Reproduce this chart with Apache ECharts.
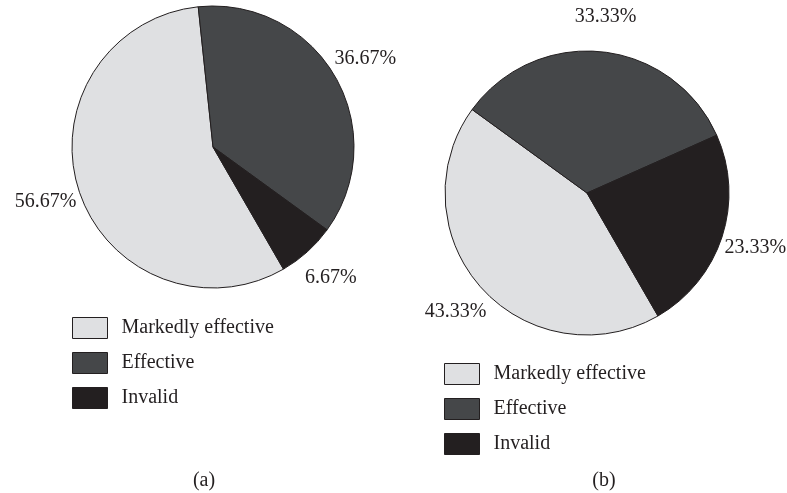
<!DOCTYPE html>
<html>
<head>
<meta charset="utf-8">
<title>Efficacy distribution</title>
<script src="https://cdn.jsdelivr.net/npm/echarts@6/dist/echarts.min.js"></script>
<style>
  html, body { margin: 0; padding: 0; background: #ffffff; }
  #chart { width: 787px; height: 493px; }
</style>
</head>
<body>
<div id="chart"></div>
<script>
// Outcome categories shared by both groups
const categories = ['Markedly effective', 'Effective', 'Invalid'];
// Percentages for group (a) and group (b)
const valuesA = [56.67, 36.67, 6.67];
const valuesB = [43.33, 33.33, 23.33];
const panelLabels = ['(a)', '(b)'];

const colors = ['#dfe0e2', '#454749', '#231f20'];
const FONT = '"Liberation Serif", "DejaVu Serif", serif';
const TEXT_COLOR = '#231f20';
const START_ANGLE = -60;

const pies = [
  { values: valuesA, center: [213, 147], radius: 141 },
  { values: valuesB, center: [587, 193], radius: 142 }
];

// Place each percentage at a fixed distance outside the rim, on the slice's mid-angle
function makeLabelLayout(pie) {
  const total = pie.values.reduce((s, v) => s + v, 0);
  return function (params) {
    let cum = 0;
    for (let i = 0; i < params.dataIndex; i++) cum += pie.values[i];
    const mid = cum + pie.values[params.dataIndex] / 2;
    const a = (START_ANGLE - mid / total * 360) * Math.PI / 180;
    const R = pie.radius + 35;
    return {
      x: pie.center[0] + R * Math.cos(a),
      y: pie.center[1] - R * Math.sin(a),
      align: 'center',
      verticalAlign: 'middle'
    };
  };
}

const series = pies.map((pie) => ({
  type: 'pie',
  center: pie.center,
  radius: pie.radius,
  startAngle: START_ANGLE,
  clockwise: true,
  avoidLabelOverlap: false,
  silent: true,
  animation: false,
  itemStyle: { borderColor: '#231f20', borderWidth: 1 },
  label: {
    show: true,
    position: 'outside',
    formatter: (p) => p.value.toFixed(2) + '%',
    fontFamily: FONT,
    fontSize: 20,
    color: TEXT_COLOR
  },
  labelLine: { show: false },
  labelLayout: makeLabelLayout(pie),
  data: categories.map((name, i) => ({
    name: name,
    value: pie.values[i],
    itemStyle: { color: colors[i] }
  }))
}));

const legendBase = {
  orient: 'vertical',
  icon: 'rect',
  itemWidth: 35,
  itemHeight: 21,
  itemGap: 13,
  padding: 0,
  selectedMode: false,
  data: categories,
  itemStyle: { borderColor: '#231f20', borderWidth: 1 },
  textStyle: {
    fontFamily: FONT,
    fontSize: 20,
    color: TEXT_COLOR,
    padding: [0, 0, 0, 9]
  }
};

const option = {
  backgroundColor: '#ffffff',
  animation: false,
  legend: [
    Object.assign({}, legendBase, { left: 72, top: 317 }),
    Object.assign({}, legendBase, { left: 444, top: 363 })
  ],
  graphic: [
    { type: 'text', x: 204, y: 481, style: { text: panelLabels[0], font: '20px ' + FONT, fill: TEXT_COLOR, textAlign: 'center', textVerticalAlign: 'middle' } },
    { type: 'text', x: 604, y: 481, style: { text: panelLabels[1], font: '20px ' + FONT, fill: TEXT_COLOR, textAlign: 'center', textVerticalAlign: 'middle' } }
  ],
  series: series
};

const chart = echarts.init(document.getElementById('chart'), null, { renderer: 'canvas' });
chart.setOption(option);
</script>
</body>
</html>
